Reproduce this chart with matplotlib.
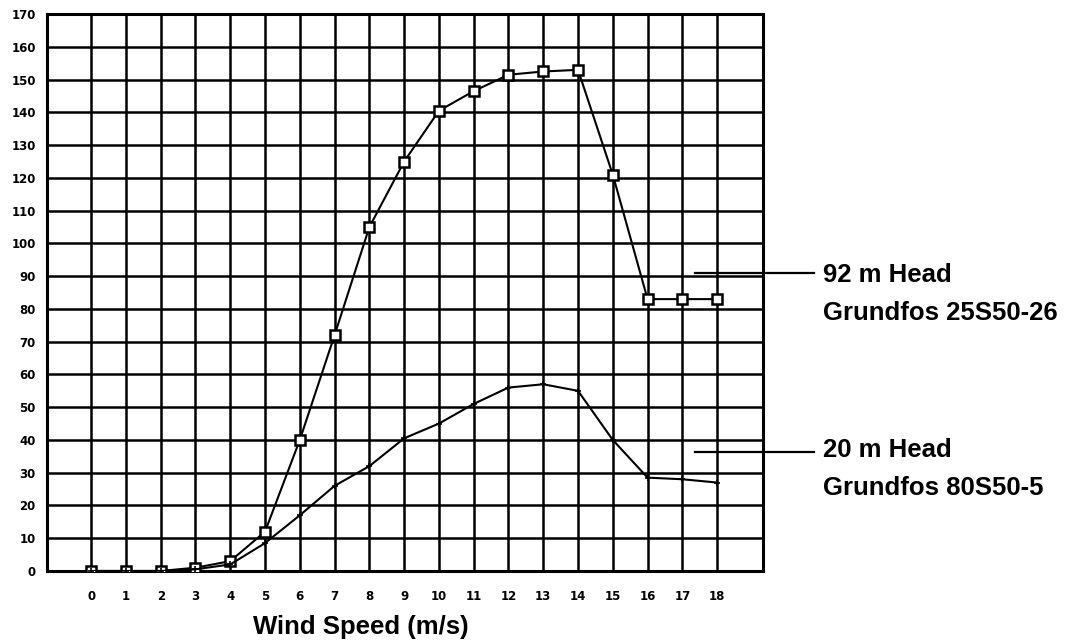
import numpy as np
import matplotlib.pyplot as plt

plt.rcParams['font.family'] = ['Liberation Sans', 'DejaVu Sans']

wind = np.arange(0, 19)
head92 = [0, 0, 0, 1, 3, 12, 40, 72, 105, 125, 140.5, 146.5, 151.5, 152.5, 153, 121, 83, 83, 83]
head20 = [0, 0, 0, 0.5, 2, 8.5, 17, 26, 32, 40.5, 45, 51, 56, 57, 55, 40, 28.5, 28, 27]

labels92 = ['92 m Head', 'Grundfos 25S50-26']
labels20 = ['20 m Head', 'Grundfos 80S50-5']

fig = plt.figure(figsize=(10.8, 6.44), dpi=100)
ax = fig.add_axes([0.0435, 0.1134, 0.663, 0.8646])

ax.set_xlim(-1.27, 19.32)
ax.set_ylim(0, 170)
ax.set_xticks(wind)
ax.set_yticks(np.arange(0, 171, 10))
ax.grid(True, color='black', linewidth=1.8)
ax.tick_params(length=0, labelsize=8.5)
ax.tick_params(axis='x', pad=14)
ax.tick_params(axis='y', pad=8)
for lab in ax.get_xticklabels() + ax.get_yticklabels():
    lab.set_fontweight('bold')
    lab.set_family('DejaVu Sans')
for s in ax.spines.values():
    s.set_linewidth(2.2)

ax.plot(wind, head92, color='black', linewidth=1.5, marker='s', markersize=7,
        markerfacecolor='white', markeredgecolor='black', markeredgewidth=1.8, zorder=3)
ax.plot(wind, head20, color='black', linewidth=1.5, marker='+', markersize=5,
        markeredgewidth=1.2, zorder=3)

# leader lines to the labels
ax.plot([17.37, 20.8], [91, 91], color='black', linewidth=1.6, clip_on=False)
ax.plot([17.37, 20.8], [36.3, 36.3], color='black', linewidth=1.6, clip_on=False)

fig.text(0.762, 1 - 275 / 644, labels92[0], fontsize=18.5, fontweight='bold', va='center')
fig.text(0.762, 1 - 313 / 644, labels92[1], fontsize=18.5, fontweight='bold', va='center')
fig.text(0.762, 1 - 450 / 644, labels20[0], fontsize=18.5, fontweight='bold', va='center')
fig.text(0.762, 1 - 488 / 644, labels20[1], fontsize=18.5, fontweight='bold', va='center')

fig.text(361 / 1080, 1 - 627 / 644, 'Wind Speed (m/s)', fontsize=18.5, fontweight='bold',
         ha='center', va='center')

fig.savefig('out.png', dpi=100)
